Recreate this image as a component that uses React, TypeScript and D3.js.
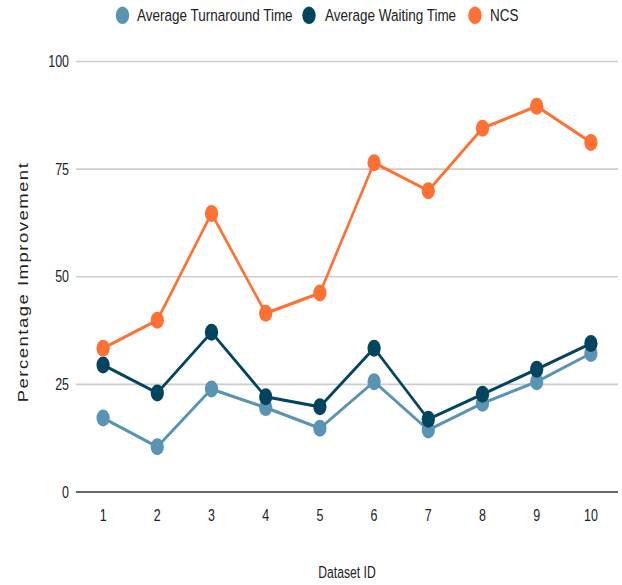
import React from "react";
import * as d3 from "d3";

const categories = ["1", "2", "3", "4", "5", "6", "7", "8", "9", "10"];
const att = [17.2, 10.5, 23.9, 19.6, 14.8, 25.6, 14.4, 20.6, 25.6, 32.2];
const awt = [29.5, 23.0, 37.1, 22.1, 19.8, 33.4, 16.9, 22.7, 28.5, 34.5];
const ncs = [33.4, 39.9, 64.7, 41.5, 46.2, 76.5, 70.0, 84.5, 89.6, 81.2];
const yTicks = [0, 25, 50, 75, 100];
const seriesNames = ["Average Turnaround Time", "Average Waiting Time", "NCS"];

const W = 622;
const H = 585;
const SX = 0.78; // horizontal squash of the reference
const FONT = "Arial, 'Liberation Sans', sans-serif";
const colors = ["#5a94b3", "#03455f", "#ff7033"];

export default function App() {
  const x = d3.scaleBand<string>().domain(categories).range([76 / SX, 618 / SX]).padding(0);
  const y = d3.scaleLinear().domain([0, 100]).range([492, 61.5]);
  const cx = (c: string) => (x(c) as number) + x.bandwidth() / 2;
  const line = d3
    .line<number>()
    .x((_, i) => cx(categories[i]))
    .y((v) => y(v));
  const series = [att, awt, ncs];
  const legendCircle = [122.5, 309, 475];
  const legendText = [137, 325, 490];

  return (
    <svg
      width={W}
      height={H}
      style={{ position: "absolute", left: 0, top: 0, display: "block", background: "#fff" }}
    >
      <g transform={`scale(${SX},1)`}>
        {/* legend */}
        {seriesNames.map((n, i) => (
          <g key={n}>
            <ellipse cx={legendCircle[i] / SX} cy={15.3} rx={8.6} ry={8.7} fill={colors[i]} />
            <text
              x={legendText[i] / SX}
              y={15.3}
              dominantBaseline="central"
              fontFamily={FONT}
              fontSize={17.3}
              fill="#222"
            >
              {n}
            </text>
          </g>
        ))}
        {/* gridlines */}
        {yTicks.map((t) => (
          <g key={t}>
            <line
              x1={76 / SX}
              x2={618 / SX}
              y1={y(t)}
              y2={y(t)}
              stroke={t === 0 ? "#333" : "#cccccc"}
              strokeWidth={1.6}
            />
            <text
              x={69 / SX}
              y={y(t)}
              textAnchor="end"
              dominantBaseline="central"
              fontFamily={FONT}
              fontSize={16}
              fill="#222"
            >
              {t}
            </text>
          </g>
        ))}
        {/* x ticks */}
        {categories.map((c) => (
          <text
            key={c}
            x={cx(c)}
            y={515}
            textAnchor="middle"
            dominantBaseline="central"
            fontFamily={FONT}
            fontSize={16}
            fill="#222"
          >
            {c}
          </text>
        ))}
        {/* titles */}
        <text
          x={347 / SX}
          y={572}
          textAnchor="middle"
          dominantBaseline="central"
          fontFamily={FONT}
          fontSize={15.6}
          fill="#222"
        >
          Dataset ID
        </text>
        <text
          transform={`translate(${23 / SX},282) rotate(-90)`}
          textAnchor="middle"
          dominantBaseline="central"
          fontFamily={FONT}
          fontSize={18.5}
          letterSpacing={1.5}
          fill="#222"
        >
          Percentage Improvement
        </text>
        {/* series */}
        {series.map((s, i) => (
          <g key={i}>
            <path d={line(s) as string} fill="none" stroke={colors[i]} strokeWidth={3.2} />
            {s.map((v, j) => (
              <ellipse key={j} cx={cx(categories[j])} cy={y(v)} rx={8.5} ry={8.5} fill={colors[i]} />
            ))}
          </g>
        ))}
      </g>
    </svg>
  );
}
